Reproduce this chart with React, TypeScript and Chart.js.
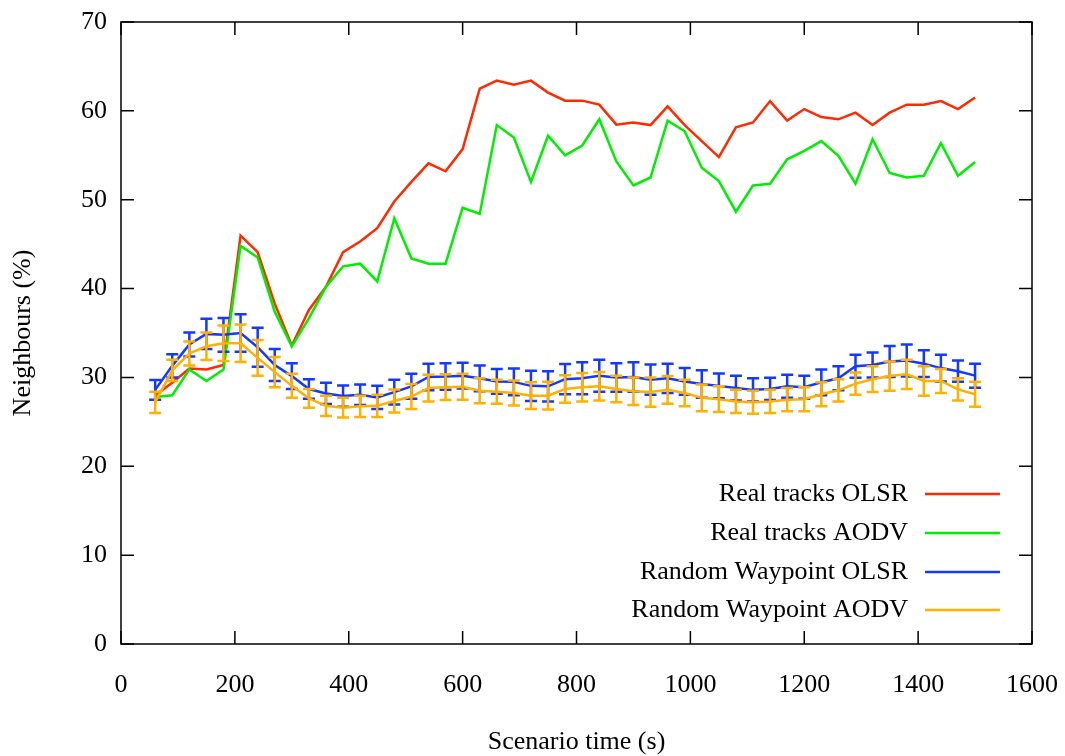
import React, { useEffect, useRef } from "react";
import { Chart, registerables } from "chart.js";

Chart.register(...registerables);

const times = [
  60, 90, 120, 150, 180, 210, 240, 270, 300, 330, 360, 390, 420, 450, 480, 510, 540,
  570, 600, 630, 660, 690, 720, 750, 780, 810, 840, 870, 900, 930, 960, 990, 1020,
  1050, 1080, 1110, 1140, 1170, 1200, 1230, 1260, 1290, 1320, 1350, 1380, 1410, 1440,
  1470, 1500,
];

const realOlsr = [
  28.0, 29.4, 31.0, 30.9, 31.4, 45.95, 44.1, 38.3, 33.6, 37.6, 40.2, 44.1, 45.3, 46.8,
  49.8, 52.0, 54.1, 53.2, 55.7, 62.5, 63.4, 62.95, 63.4, 62.05, 61.15, 61.15, 60.7,
  58.45, 58.7, 58.4, 60.5, 58.4, 56.6, 54.8, 58.15, 58.7, 61.1, 58.9, 60.2, 59.3, 59.05,
  59.8, 58.4, 59.8, 60.7, 60.7, 61.1, 60.2, 61.5,
];

const realAodv = [
  27.8, 28.0, 30.9, 29.6, 30.9, 44.8, 43.5, 37.4, 33.5, 36.65, 40.2, 42.5, 42.8, 40.8,
  47.9, 43.4, 42.8, 42.8, 49.1, 48.4, 58.4, 57.0, 52.0, 57.2, 55.0, 56.1, 59.05, 54.3,
  51.6, 52.5, 58.9, 57.7, 53.6, 52.1, 48.65, 51.6, 51.8, 54.55, 55.5, 56.6, 54.95, 51.8,
  56.8, 53.0, 52.5, 52.7, 56.35, 52.7, 54.25,
];

const rwpOlsr = [
  28.6, 31.3, 33.7, 34.9, 34.8, 35.0, 33.4, 31.4, 30.15, 28.7, 28.2, 27.9, 28.05, 27.75,
  28.35, 29.0, 30.05, 30.1, 30.2, 29.9, 29.55, 29.5, 29.05, 29.0, 29.8, 29.9, 30.2, 30.0,
  30.05, 29.75, 29.9, 29.55, 29.25, 29.05, 28.8, 28.6, 28.7, 29.0, 28.9, 29.45, 29.9,
  31.25, 31.4, 31.8, 31.9, 31.55, 31.05, 30.7, 30.2,
];
const rwpOlsrErr = [
  1.1, 1.3, 1.35, 1.7, 1.9, 2.1, 2.2, 1.8, 1.45, 1.1, 1.2, 1.2, 1.15, 1.3, 1.4, 1.4, 1.5,
  1.5, 1.45, 1.45, 1.4, 1.5, 1.7, 1.7, 1.7, 1.8, 1.8, 1.6, 1.65, 1.7, 1.65, 1.5, 1.55,
  1.4, 1.4, 1.3, 1.25, 1.3, 1.3, 1.45, 1.35, 1.3, 1.4, 1.75, 1.8, 1.5, 1.5, 1.2, 1.35,
];

const rwpAodv = [
  27.2, 30.8, 32.7, 33.5, 33.85, 33.85, 32.2, 30.6, 29.05, 27.65, 26.8, 26.6, 26.75, 26.8,
  27.35, 27.85, 28.8, 28.9, 28.95, 28.5, 28.4, 28.25, 27.95, 27.95, 28.7, 28.9, 29.0,
  28.7, 28.45, 28.35, 28.6, 28.25, 27.7, 27.55, 27.3, 27.2, 27.3, 27.5, 27.55, 28.1,
  28.55, 29.3, 29.8, 30.15, 30.35, 29.6, 29.6, 28.65, 28.1,
];
const rwpAodvErr = [
  1.2, 1.2, 1.35, 1.55, 2.0, 2.1, 2.0, 1.7, 1.35, 1.05, 1.15, 1.1, 1.2, 1.25, 1.3, 1.4,
  1.5, 1.45, 1.45, 1.4, 1.35, 1.4, 1.5, 1.55, 1.55, 1.6, 1.6, 1.5, 1.55, 1.65, 1.55, 1.5,
  1.5, 1.45, 1.3, 1.3, 1.3, 1.3, 1.35, 1.35, 1.25, 1.25, 1.45, 1.65, 1.65, 1.65, 1.35,
  1.25, 1.4,
];

const xTicks = [0, 200, 400, 600, 800, 1000, 1200, 1400, 1600];
const yTicks = [0, 10, 20, 30, 40, 50, 60, 70];

const seriesLabels = [
  "Real tracks OLSR",
  "Real tracks AODV",
  "Random Waypoint OLSR",
  "Random Waypoint AODV",
];
const seriesColors = ["#ff2a00", "#00ee00", "#1438ff", "#ffb000"];

const FONT = "'Liberation Serif', 'Times New Roman', serif";
const FS = 26;

// target plot frame in page pixels
const AREA = { left: 121, right: 1032, top: 22, bottom: 644 };

const errorBarPlugin = {
  id: "errorBars",
  afterDatasetDraw(chart: any, args: any) {
    const ds = chart.data.datasets[args.index];
    if (!ds.errors) return;
    const ctx = chart.ctx;
    const ys = chart.scales.y;
    const xs = chart.scales.x;
    ctx.save();
    ctx.strokeStyle = ds.borderColor;
    ctx.lineWidth = 2.5;
    ds.data.forEach((p: any, i: number) => {
      const e = ds.errors[i];
      const px = xs.getPixelForValue(p.x);
      const top = ys.getPixelForValue(p.y + e);
      const bot = ys.getPixelForValue(p.y - e);
      ctx.beginPath();
      ctx.moveTo(px, top);
      ctx.lineTo(px, bot);
      ctx.moveTo(px - 6, top);
      ctx.lineTo(px + 6, top);
      ctx.moveTo(px - 6, bot);
      ctx.lineTo(px + 6, bot);
      ctx.stroke();
    });
    ctx.restore();
  },
};

const framePlugin = {
  id: "frame",
  afterDraw(chart: any) {
    const ctx = chart.ctx;
    const { left, right, top, bottom } = chart.chartArea;
    const xs = chart.scales.x;
    const ys = chart.scales.y;
    const tl = 13;
    ctx.save();
    ctx.strokeStyle = "#000";
    ctx.lineWidth = 1.5;
    ctx.strokeRect(left, top, right - left, bottom - top);
    ctx.beginPath();
    xTicks.forEach((v) => {
      const px = xs.getPixelForValue(v);
      ctx.moveTo(px, bottom);
      ctx.lineTo(px, bottom - tl);
      ctx.moveTo(px, top);
      ctx.lineTo(px, top + tl);
    });
    yTicks.forEach((v) => {
      const py = ys.getPixelForValue(v);
      ctx.moveTo(left, py);
      ctx.lineTo(left + tl, py);
      ctx.moveTo(right, py);
      ctx.lineTo(right - tl, py);
    });
    ctx.stroke();

    // legend
    ctx.font = `${FS}px ${FONT}`;
    ctx.textAlign = "right";
    ctx.textBaseline = "middle";
    const rows = [150, 111, 72, 34];
    seriesLabels.forEach((lab, i) => {
      const y = bottom - rows[i];
      ctx.fillStyle = "#000";
      ctx.fillText(lab, right - 124, y);
      ctx.strokeStyle = seriesColors[i];
      ctx.lineWidth = 2.5;
      ctx.beginPath();
      ctx.moveTo(right - 107, y);
      ctx.lineTo(right - 32, y);
      ctx.stroke();
    });
    ctx.restore();
  },
};

export default function App() {
  const ref = useRef<HTMLCanvasElement | null>(null);

  useEffect(() => {
    if (!ref.current) return;
    const mk = (vals: number[]) => vals.map((v, i) => ({ x: times[i], y: v }));
    const line = (i: number, vals: number[], order: number, errors?: number[]) =>
      ({
        label: seriesLabels[i],
        data: mk(vals),
        errors,
        borderColor: seriesColors[i],
        borderWidth: 2.5,
        pointRadius: 0,
        order,
      }) as any;
    const chart = new Chart(ref.current, {
      type: "line",
      data: {
        datasets: [
          line(0, realOlsr, 4),
          line(1, realAodv, 3),
          line(2, rwpOlsr, 2, rwpOlsrErr),
          line(3, rwpAodv, 1, rwpAodvErr),
        ],
      },
      options: {
        animation: false,
        responsive: false,
        maintainAspectRatio: false,
        layout: { padding: { top: AREA.top, right: 1065 - AREA.right, left: 0, bottom: 0 } },
        plugins: {
          legend: { display: false },
          tooltip: { enabled: false },
        },
        elements: { line: { tension: 0 } },
        scales: {
          x: {
            type: "linear",
            min: 0,
            max: 1600,
            afterBuildTicks: (s: any) => {
              s.ticks = xTicks.map((v) => ({ value: v }));
            },
            afterFit: (s: any) => {
              s.height = 756 - AREA.bottom;
              s.paddingLeft = 0;
              s.paddingRight = 0;
            },
            grid: { display: false, drawTicks: false },
            border: { display: false },
            ticks: {
              padding: 26,
              color: "#000",
              font: { family: FONT, size: FS },
              maxRotation: 0,
              callback: (v: any) => String(v),
            },
            title: {
              display: true,
              text: "Scenario time (s)",
              color: "#000",
              font: { family: FONT, size: FS },
              padding: { top: 0, bottom: -2 },
            },
          },
          y: {
            type: "linear",
            min: 0,
            max: 70,
            afterBuildTicks: (s: any) => {
              s.ticks = yTicks.map((v) => ({ value: v }));
            },
            afterFit: (s: any) => {
              s.width = AREA.left;
              s.paddingTop = 0;
              s.paddingBottom = 0;
            },
            grid: { display: false, drawTicks: false },
            border: { display: false },
            ticks: {
              padding: 14,
              color: "#000",
              font: { family: FONT, size: FS },
            },
            title: {
              display: true,
              text: "Neighbours (%)",
              color: "#000",
              font: { family: FONT, size: FS },
              padding: { top: 8, bottom: 0 },
            },
          },
        },
      } as any,
      plugins: [errorBarPlugin, framePlugin],
    });
    return () => chart.destroy();
  }, []);

  return (
    <div
      style={{
        position: "absolute",
        left: 0,
        top: 0,
        width: 1065,
        height: 756,
        background: "#fff",
      }}
    >
      <canvas ref={ref} width={1065} height={756} style={{ display: "block" }} />
    </div>
  );
}
